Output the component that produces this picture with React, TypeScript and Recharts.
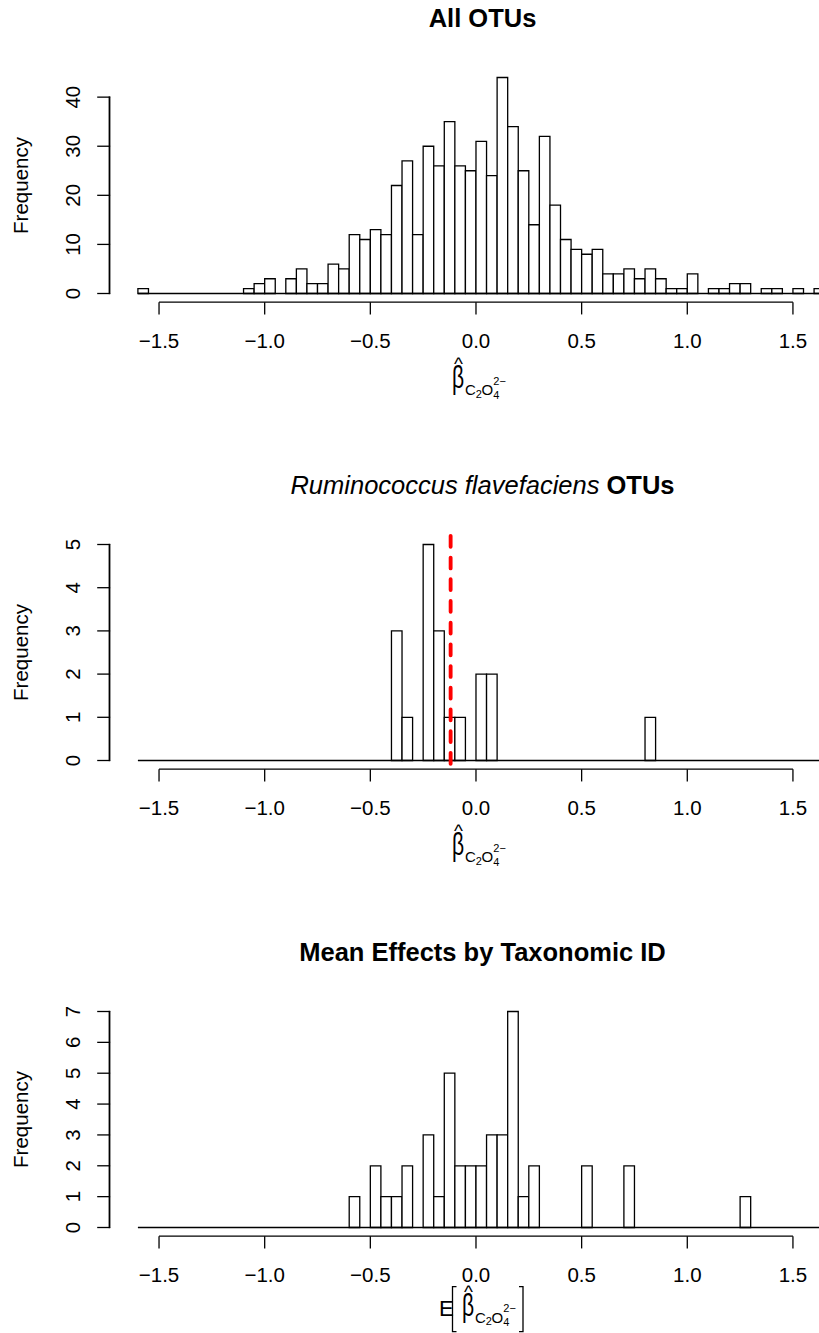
import React from 'react';
import { BarChart, Bar, XAxis, YAxis, ReferenceLine } from 'recharts';

// histogram bins: left edges, width 0.05
const binStarts = [
  -1.6, -1.55, -1.5, -1.45, -1.4, -1.35, -1.3, -1.25, -1.2, -1.15,
  -1.1, -1.05, -1.0, -0.95, -0.9, -0.85, -0.8, -0.75, -0.7, -0.65,
  -0.6, -0.55, -0.5, -0.45, -0.4, -0.35, -0.3, -0.25, -0.2, -0.15,
  -0.1, -0.05, 0, 0.05, 0.1, 0.15, 0.2, 0.25, 0.3, 0.35,
  0.4, 0.45, 0.5, 0.55, 0.6, 0.65, 0.7, 0.75, 0.8, 0.85,
  0.9, 0.95, 1.0, 1.05, 1.1, 1.15, 1.2, 1.25, 1.3, 1.35,
  1.4, 1.45, 1.5, 1.55, 1.6, 1.65,
];
const BIN_W = 0.05;

const allOtuCounts = [
  1, 0, 0, 0, 0, 0, 0, 0, 0, 0,
  1, 2, 3, 0, 3, 5, 2, 2, 6, 5,
  12, 11, 13, 12, 22, 27, 12, 30, 26, 35,
  26, 25, 31, 24, 44, 34, 25, 14, 32, 18,
  11, 9, 8, 9, 4, 4, 5, 3, 5, 3,
  1, 1, 4, 0, 1, 1, 2, 2, 0, 1,
  1, 0, 1, 0, 1, 0,
];

const ruminococcusCounts = [
  0, 0, 0, 0, 0, 0, 0, 0, 0, 0,
  0, 0, 0, 0, 0, 0, 0, 0, 0, 0,
  0, 0, 0, 0, 3, 1, 0, 5, 3, 1,
  1, 0, 2, 2, 0, 0, 0, 0, 0, 0,
  0, 0, 0, 0, 0, 0, 0, 0, 1, 0,
  0, 0, 0, 0, 0, 0, 0, 0, 0, 0,
  0, 0, 0, 0, 0, 0,
];

const meanEffectCounts = [
  0, 0, 0, 0, 0, 0, 0, 0, 0, 0,
  0, 0, 0, 0, 0, 0, 0, 0, 0, 0,
  1, 0, 2, 1, 1, 2, 0, 3, 1, 5,
  2, 2, 2, 3, 3, 7, 1, 2, 0, 0,
  0, 0, 2, 0, 0, 0, 2, 0, 0, 0,
  0, 0, 0, 0, 0, 0, 0, 1, 0, 0,
  0, 0, 0, 0, 0, 0,
];

const xTicks = [-1.5, -1.0, -0.5, 0, 0.5, 1.0, 1.5];
const allOtuYTicks = [0, 10, 20, 30, 40];
const ruminococcusYTicks = [0, 1, 2, 3, 4, 5];
const meanEffectYTicks = [0, 1, 2, 3, 4, 5, 6, 7];
const ruminococcusMean = -0.12;

// layout
const FONT = '"Liberation Sans", Arial, Helvetica, sans-serif';
const X_MIN = -1.6;
const X_MAX = 1.7;
const PANEL_H = 467;
const CHART_W = 870;
const PLOT_LEFT = 137.9;
const PLOT_W = 697.3;
const PLOT_TOP = 77.5;
const PLOT_H = 216;
const Y_AXIS_W = 60;
const X_AXIS_H = 100;
const BIN_PX = PLOT_W / binStarts.length;
const Y_GAP = 28.4; // R region edge left of first bin
const AXIS_GAP = PLOT_H * 0.04;
const AXIS_LINE_Y = PLOT_TOP + PLOT_H + AXIS_GAP;
const Y_AXIS_X = PLOT_LEFT - Y_GAP;
const TICK_LEN = 12.3;
const LW = 1.3;
const AXIS_FONT = 20.5;

const renderXTick = (props: any) => {
  const { x, payload } = props;
  const label = Number(payload.value).toFixed(1).replace('-', '\u2212');
  return (
    <g>
      <line x1={x} x2={x} y1={AXIS_LINE_Y} y2={AXIS_LINE_Y + TICK_LEN} stroke="#000" strokeWidth={LW} />
      <text x={x} y={AXIS_LINE_Y + 46} textAnchor="middle" fontSize={AXIS_FONT} fontFamily={FONT} fill="#000">
        {label}
      </text>
    </g>
  );
};

const renderYTick = (props: any) => {
  const { y, payload } = props;
  const ax = Y_AXIS_X;
  const tx = ax - 29.4;
  return (
    <g>
      <line x1={ax - TICK_LEN} x2={ax + LW / 2} y1={y} y2={y} stroke="#000" strokeWidth={LW} />
      <text
        x={tx}
        y={y}
        transform={`rotate(-90 ${tx} ${y})`}
        textAnchor="middle"
        fontSize={AXIS_FONT}
        fontFamily={FONT}
        fill="#000"
      >
        {payload.value}
      </text>
    </g>
  );
};

function BetaHat({ x, y }: { x: number; y: number }) {
  return (
    <g fontFamily={FONT} fill="#000">
      <text x={x + 6.5} y={y - 18} textAnchor="middle" fontSize={19}>^</text>
      <text x={x} y={y} fontSize={31} transform={`translate(${x} 0) scale(0.68 1) translate(${-x} 0)`}>β</text>
      <text x={x + 13} y={y + 7} fontSize={15}>C</text>
      <text x={x + 23.8} y={y + 9.5} fontSize={11}>2</text>
      <text x={x + 29.5} y={y + 7} fontSize={15}>O</text>
      <text x={x + 41.3} y={y - 3.5} fontSize={11}>{'2\u2212'}</text>
      <text x={x + 41.3} y={y + 10.5} fontSize={11}>4</text>
    </g>
  );
}

function HistPanel({
  counts,
  yMax,
  yTicks,
  title,
  meanLine,
  expectation,
}: {
  counts: number[];
  yMax: number;
  yTicks: number[];
  title: React.ReactNode;
  meanLine?: number;
  expectation?: boolean;
}) {
  const rows = binStarts.map((start, i) => ({ start, mid: start + BIN_W / 2, count: counts[i] }));
  const regionBottom = -0.04 * yMax;
  const regionTop = yMax * 1.04;
  const betaX = expectation ? 462 : 452;
  const betaY = expectation ? AXIS_LINE_Y + 79.5 : AXIS_LINE_Y + 86;
  const ylabY = (PLOT_TOP - AXIS_GAP + AXIS_LINE_Y) / 2;
  // y axis line spans first to last tick
  const yAxisBottom = PLOT_TOP + PLOT_H - (PLOT_H * yTicks[0]) / yMax;
  const yAxisTop = PLOT_TOP + PLOT_H - (PLOT_H * yTicks[yTicks.length - 1]) / yMax;

  return (
    <div style={{ position: 'relative', width: 819, height: PANEL_H, overflow: 'hidden' }}>
      <div style={{ position: 'absolute', left: 0, top: 0 }}>
        <BarChart
          width={CHART_W}
          height={PANEL_H}
          data={rows}
          barCategoryGap={0}
          barGap={0}
          margin={{
            top: PLOT_TOP,
            left: PLOT_LEFT - Y_AXIS_W,
            right: CHART_W - PLOT_LEFT - PLOT_W,
            bottom: PANEL_H - PLOT_TOP - PLOT_H - X_AXIS_H,
          }}
        >
          <XAxis dataKey="start" hide />
          <XAxis
            xAxisId="n"
            type="number"
            dataKey="mid"
            domain={[X_MIN, X_MAX]}
            ticks={xTicks}
            interval={0}
            axisLine={false}
            tickLine={false}
            tickSize={0}
            tickMargin={0}
            height={X_AXIS_H}
            tick={renderXTick}
          />
          <YAxis
            type="number"
            domain={[0, yMax]}
            ticks={yTicks}
            interval={0}
            axisLine={false}
            tickLine={false}
            tickSize={0}
            tickMargin={0}
            width={Y_AXIS_W}
            tick={renderYTick}
          />
          <Bar
            dataKey="count"
            fill="#fff"
            stroke="#000"
            strokeWidth={LW}
            barSize={BIN_PX - 0.002}
            isAnimationActive={false}
          />
          <ReferenceLine
            xAxisId="n"
            segment={[{ x: X_MIN, y: 0 }, { x: X_MAX, y: 0 }]}
            stroke="#000"
            strokeWidth={LW}
            ifOverflow="visible"
          />
          <ReferenceLine
            xAxisId="n"
            segment={[{ x: xTicks[0], y: regionBottom }, { x: xTicks[xTicks.length - 1], y: regionBottom }]}
            stroke="#000"
            strokeWidth={LW}
            ifOverflow="visible"
          />
          {meanLine !== undefined && (
            <ReferenceLine
              xAxisId="n"
              segment={[{ x: meanLine, y: regionTop }, { x: meanLine, y: regionBottom }]}
              stroke="#ff0000"
              strokeWidth={3.85}
              strokeDasharray="10.85 10.85"
              strokeLinecap="round"
              ifOverflow="visible"
            />
          )}
        </BarChart>
      </div>
      <svg
        width={819}
        height={PANEL_H}
        style={{ position: 'absolute', left: 0, top: 0, pointerEvents: 'none' }}
      >
        <rect
          x={Y_AXIS_X - 0.9}
          y={yAxisTop - 0.65}
          width={1.8}
          height={yAxisBottom - yAxisTop + 1.3}
          fill="#000"
        />
        <text x={482.5} y={26.5} textAnchor="middle" fontSize={25.5} fontFamily={FONT} fill="#000">
          {title}
        </text>
        <text
          x={28}
          y={ylabY}
          transform={`rotate(-90 28 ${ylabY})`}
          textAnchor="middle"
          fontSize={AXIS_FONT}
          fontFamily={FONT}
          fill="#000"
        >
          Frequency
        </text>
        {expectation && (
          <g>
            <text x={betaX - 23} y={betaY} fontSize={22} fontFamily={FONT} fill="#000">E</text>
            <path
              d={`M${betaX - 5.5} ${betaY - 29} H${betaX - 9.5} V${betaY + 16} H${betaX - 5.5}`}
              fill="none"
              stroke="#000"
              strokeWidth={LW}
            />
            <path
              d={`M${betaX + 57} ${betaY - 29} H${betaX + 61} V${betaY + 16} H${betaX + 57}`}
              fill="none"
              stroke="#000"
              strokeWidth={LW}
            />
          </g>
        )}
        <BetaHat x={betaX} y={betaY} />
      </svg>
    </div>
  );
}

export default function App() {
  return (
    <div
      style={{
        position: 'absolute',
        left: 0,
        top: 0,
        width: 819,
        height: 1333,
        overflow: 'hidden',
        background: '#fff',
      }}
    >
      <HistPanel
        counts={allOtuCounts}
        yMax={44}
        yTicks={allOtuYTicks}
        title={<tspan fontWeight="bold">All OTUs</tspan>}
      />
      <HistPanel
        counts={ruminococcusCounts}
        yMax={5}
        yTicks={ruminococcusYTicks}
        meanLine={ruminococcusMean}
        title={
          <>
            <tspan fontStyle="italic">Ruminococcus flavefaciens</tspan>
            <tspan fontWeight="bold">{' OTUs'}</tspan>
          </>
        }
      />
      <HistPanel
        counts={meanEffectCounts}
        yMax={7}
        yTicks={meanEffectYTicks}
        expectation
        title={<tspan fontWeight="bold">Mean Effects by Taxonomic ID</tspan>}
      />
    </div>
  );
}
